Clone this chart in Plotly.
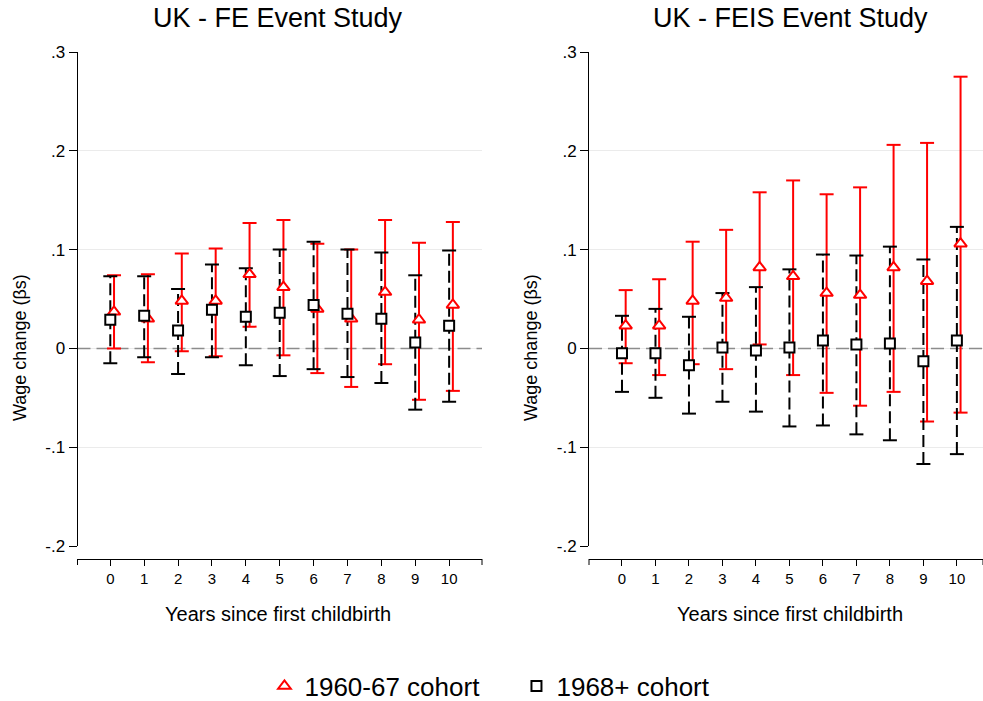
import plotly.graph_objects as go

# ---------------- data ----------------
years = [0, 1, 2, 3, 4, 5, 6, 7, 8, 9, 10]
x_tick_labels = ["0", "1", "2", "3", "4", "5", "6", "7", "8", "9", "10"]
y_tick_vals = [-0.2, -0.1, 0.0, 0.1, 0.2, 0.3]
y_tick_labels = ["-.2", "-.1", "0", ".1", ".2", ".3"]

series_names = ["1960-67 cohort", "1968+ cohort"]
panel_titles = ["UK - FE Event Study", "UK - FEIS Event Study"]

# FE panel
fe_old = [0.037, 0.030, 0.048, 0.048, 0.075, 0.062, 0.040, 0.030, 0.057, 0.029, 0.044]
fe_old_lo = [0.000, -0.014, -0.003, -0.008, 0.022, -0.007, -0.025, -0.039, -0.016, -0.052, -0.043]
fe_old_hi = [0.074, 0.075, 0.096, 0.101, 0.127, 0.130, 0.106, 0.100, 0.130, 0.107, 0.128]
fe_new = [0.029, 0.033, 0.018, 0.039, 0.032, 0.036, 0.044, 0.035, 0.030, 0.006, 0.023]
fe_new_lo = [-0.015, -0.009, -0.026, -0.009, -0.017, -0.028, -0.021, -0.029, -0.035, -0.062, -0.054]
fe_new_hi = [0.073, 0.073, 0.060, 0.085, 0.081, 0.100, 0.108, 0.100, 0.097, 0.074, 0.099]

# FEIS panel
fs_old = [0.023, 0.023, 0.048, 0.051, 0.082, 0.073, 0.056, 0.054, 0.082, 0.068, 0.106]
fs_old_lo = [-0.015, -0.027, -0.016, -0.021, 0.004, -0.027, -0.045, -0.058, -0.044, -0.074, -0.065]
fs_old_hi = [0.059, 0.070, 0.108, 0.120, 0.158, 0.170, 0.156, 0.163, 0.206, 0.208, 0.275]
fs_new = [-0.005, -0.005, -0.017, 0.001, -0.002, 0.001, 0.008, 0.004, 0.005, -0.013, 0.008]
fs_new_lo = [-0.044, -0.050, -0.066, -0.054, -0.064, -0.079, -0.078, -0.087, -0.093, -0.117, -0.107]
fs_new_hi = [0.033, 0.040, 0.032, 0.056, 0.062, 0.080, 0.095, 0.094, 0.103, 0.090, 0.123]

# ---------------- styling / layout helpers ----------------
W, H = 983, 701
FONT = "Liberation Sans, Arial, sans-serif"
RED = "#ff0000"
BLACK = "#000000"
OFFSET = 0.11
X_RANGES = [[-0.968, 10.97], [-0.985, 10.78]]


def fx(px):
    return px / W


def fy(py):
    return 1 - py / H


def ci_xy(xs, lo, hi):
    X, Y = [], []
    for x, l, h in zip(xs, lo, hi):
        X += [x, x, None]
        Y += [l, h, None]
    return X, Y


fig = go.Figure()

panels = [
    dict(xa="x", ya="y", old=(fe_old, fe_old_lo, fe_old_hi), new=(fe_new, fe_new_lo, fe_new_hi),
         legend=True, xr=X_RANGES[0]),
    dict(xa="x2", ya="y2", old=(fs_old, fs_old_lo, fs_old_hi), new=(fs_new, fs_new_lo, fs_new_hi),
         legend=False, xr=X_RANGES[1]),
]

for p in panels:
    xo = [y + OFFSET for y in years]
    xn = list(years)
    o, olo, ohi = p["old"]
    n, nlo, nhi = p["new"]

    # dashed zero reference line (below the marks, above the grid)
    fig.add_trace(go.Scatter(x=p["xr"], y=[0, 0], mode="lines",
                             line=dict(color="#8c8c8c", width=1.5, dash="13px,6px"),
                             xaxis=p["xa"], yaxis=p["ya"], showlegend=False, hoverinfo="skip",
                             cliponaxis=False))

    # red CIs (solid)
    X, Y = ci_xy(xo, olo, ohi)
    fig.add_trace(go.Scatter(x=X, y=Y, mode="lines", line=dict(color=RED, width=2),
                             xaxis=p["xa"], yaxis=p["ya"], showlegend=False, hoverinfo="skip"))
    fig.add_trace(go.Scatter(x=xo + xo, y=olo + ohi, mode="markers",
                             marker=dict(symbol="line-ew", size=10, line=dict(color=RED, width=2)),
                             xaxis=p["xa"], yaxis=p["ya"], showlegend=False, hoverinfo="skip"))
    # black CIs (dashed)
    X, Y = ci_xy(xn, nlo, nhi)
    fig.add_trace(go.Scatter(x=X, y=Y, mode="lines", line=dict(color=BLACK, width=2, dash="12px,5px"),
                             xaxis=p["xa"], yaxis=p["ya"], showlegend=False, hoverinfo="skip"))
    fig.add_trace(go.Scatter(x=xn + xn, y=nlo + nhi, mode="markers",
                             marker=dict(symbol="line-ew", size=10, line=dict(color=BLACK, width=2)),
                             xaxis=p["xa"], yaxis=p["ya"], showlegend=False, hoverinfo="skip"))
    # point estimates
    fig.add_trace(go.Scatter(x=xo, y=o, mode="markers", name=series_names[0],
                             marker=dict(symbol="triangle-up", size=11, color="white",
                                         line=dict(color=RED, width=2)),
                             xaxis=p["xa"], yaxis=p["ya"], showlegend=p["legend"]))
    fig.add_trace(go.Scatter(x=xn, y=n, mode="markers", name=series_names[1],
                             marker=dict(symbol="square", size=10, color="white",
                                         line=dict(color=BLACK, width=2)),
                             xaxis=p["xa"], yaxis=p["ya"], showlegend=p["legend"]))

yaxis_common = dict(
    range=[-0.2, 0.3], domain=[fy(546), fy(52)],
    tickmode="array", tickvals=y_tick_vals, ticktext=y_tick_labels,
    ticks="outside", ticklen=8, tickwidth=1, tickcolor=BLACK,
    showline=True, linecolor=BLACK, linewidth=1,
    showgrid=True, gridcolor="#ebebeb", gridwidth=1, zeroline=False,
    tickfont=dict(family=FONT, size=17, color=BLACK),
)
xaxis_common = dict(
    tickmode="array", tickvals=years, ticktext=x_tick_labels,
    ticks="outside", ticklen=6, tickwidth=1, tickcolor=BLACK,
    showline=True, linecolor=BLACK, linewidth=1,
    showgrid=False, zeroline=False, anchor="free", position=fy(559),
    tickfont=dict(family=FONT, size=15, color=BLACK),
)

fig.update_layout(
    width=W, height=H, margin=dict(l=0, r=0, t=0, b=0, autoexpand=False),
    paper_bgcolor="white", plot_bgcolor="white",
    font=dict(family=FONT, color=BLACK),
    xaxis=dict(xaxis_common, domain=[fx(77.5), fx(482)], range=X_RANGES[0]),
    xaxis2=dict(xaxis_common, domain=[fx(589), 1.0], range=X_RANGES[1]),
    yaxis=dict(yaxis_common, anchor="x"),
    yaxis2=dict(yaxis_common, anchor="x2"),
    legend=dict(orientation="h", x=0.5254, xanchor="center", y=fy(686), yanchor="middle",
                entrywidth=207, entrywidthmode="pixels",
                font=dict(family=FONT, size=26, color=BLACK), bgcolor="rgba(0,0,0,0)"),
    showlegend=True,
)

shapes = []
annotations = []
for xa in ("x", "x2"):
    # x-axis end caps
    for xe in (0, 1):
        shapes.append(dict(type="line", xref=f"{xa} domain", yref="paper", x0=xe, x1=xe,
                           y0=fy(559), y1=fy(565), line=dict(color=BLACK, width=1)))

title_x = [278, 790]
ytitle_x = [20, 531]
xtitle_x = [278, 790]
for i in range(2):
    annotations.append(dict(text=panel_titles[i], x=fx(title_x[i]), y=fy(18), xref="paper", yref="paper",
                            showarrow=False, xanchor="center", yanchor="middle",
                            font=dict(family=FONT, size=27, color=BLACK)))
    annotations.append(dict(text="Years since first childbirth", x=fx(xtitle_x[i]), y=fy(614),
                            xref="paper", yref="paper", showarrow=False, xanchor="center", yanchor="middle",
                            font=dict(family=FONT, size=20, color=BLACK)))
    annotations.append(dict(text="Wage change (βs)", x=fx(ytitle_x[i]), y=fy(348), xref="paper", yref="paper",
                            showarrow=False, xanchor="center", yanchor="middle", textangle=-90,
                            font=dict(family=FONT, size=18, color=BLACK)))

fig.update_layout(shapes=shapes, annotations=annotations)

fig.write_html("out.html")
